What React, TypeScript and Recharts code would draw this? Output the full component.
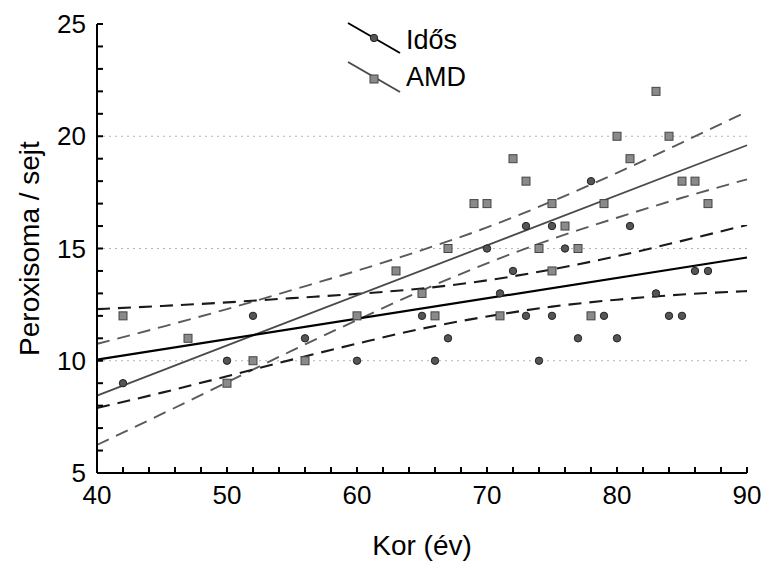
import { ComposedChart, XAxis, YAxis, Scatter, Line, ReferenceLine } from "recharts";

// Idős (elderly) group
const idosAge = [42, 50, 52, 56, 60, 65, 66, 67, 70, 71, 72, 73, 73, 74, 75, 75, 76, 77, 78, 79, 80, 81, 83, 84, 85, 86, 87];
const idosValue = [9, 10, 12, 11, 10, 12, 10, 11, 15, 13, 14, 16, 12, 10, 16, 12, 15, 11, 18, 12, 11, 16, 13, 12, 12, 14, 14];

// AMD group
const amdAge = [42, 47, 50, 52, 56, 60, 63, 65, 66, 67, 69, 70, 71, 72, 73, 74, 75, 75, 76, 77, 78, 79, 80, 81, 83, 84, 85, 86, 87];
const amdValue = [12, 11, 9, 10, 10, 12, 14, 13, 12, 15, 17, 17, 12, 19, 18, 15, 17, 14, 16, 15, 12, 17, 20, 19, 22, 20, 18, 18, 17];

// regression lines (read at the ends of the x range)
const fitAge = [40, 90];
const idosFit = [10.05, 14.6];
const amdFit = [8.45, 19.6];

// 95% confidence bands
const bandAge = [40, 45, 50, 55, 60, 65, 70, 75, 80, 85, 90];
const idosUpper = [12.3, 12.44, 12.6, 12.79, 12.98, 13.22, 13.58, 14.07, 14.66, 15.34, 16.05];
const idosLower = [7.9, 8.58, 9.31, 10.05, 10.76, 11.43, 11.97, 12.41, 12.72, 12.95, 13.1];
const amdUpper = [10.75, 11.51, 12.3, 13.15, 14.01, 14.93, 15.94, 17.1, 18.37, 19.72, 21.1];
const amdLower = [6.25, 7.63, 9.04, 10.45, 11.81, 13.13, 14.34, 15.42, 16.37, 17.26, 18.08];

const xTicks = [40, 42, 44, 46, 48, 50, 52, 54, 56, 58, 60, 62, 64, 66, 68, 70, 72, 74, 76, 78, 80, 82, 84, 86, 88, 90];
const yTicks = [5, 6, 7, 8, 9, 10, 11, 12, 13, 14, 15, 16, 17, 18, 19, 20, 21, 22, 23, 24, 25];
const gridValues = [10, 15, 20];

const FONT = '"Liberation Sans", Arial, sans-serif';

const toPoints = (xs: number[], ys: number[]) => xs.map((x, i) => ({ x, y: ys[i] }));

const XTick = (props: any) => {
  const { x, y, payload } = props;
  const major = payload.value % 10 === 0;
  return (
    <g>
      <path d={`M${x},${y}V${y - 6}`} stroke="#000" strokeWidth={2} fill="none" />
      {major && (
        <text x={x} y={y + 31} textAnchor="middle" fontSize={26} fontFamily={FONT} fill="#000">
          {payload.value}
        </text>
      )}
    </g>
  );
};

const YTick = (props: any) => {
  const { x, y, payload } = props;
  const major = payload.value % 5 === 0;
  return (
    <g>
      <path d={`M${x},${y}H${x + 6}`} stroke="#000" strokeWidth={2} fill="none" />
      {major && (
        <text x={x - 11} y={y + 9} textAnchor="end" fontSize={26} fontFamily={FONT} fill="#000">
          {payload.value}
        </text>
      )}
    </g>
  );
};

const CircleMark = ({ cx, cy }: any) => (
  <circle cx={cx} cy={cy} r={3.7} fill="#555" stroke="#222" strokeWidth={1} />
);

const SquareMark = ({ cx, cy }: any) => (
  <rect x={cx - 4} y={cy - 4} width={8} height={8} fill="#8a8a8a" stroke="#444" strokeWidth={1} />
);

const XTitle = ({ viewBox }: any) => (
  <text x={viewBox.x + viewBox.width / 2} y={555} textAnchor="middle" fontSize={28} fontFamily={FONT} fill="#000">
    Kor (év)
  </text>
);

const YTitle = ({ viewBox }: any) => {
  const cy = viewBox.y + viewBox.height / 2;
  return (
    <text
      x={29}
      y={cy}
      transform={`rotate(-90, 29, ${cy})`}
      textAnchor="middle"
      dominantBaseline="central"
      fontSize={28}
      fontFamily={FONT}
      fill="#000"
    >
      Peroxisoma / sejt
    </text>
  );
};

export default function App() {
  return (
    <div style={{ position: "absolute", left: 0, top: 0, width: 761, height: 562, background: "#fff" }}>
      <ComposedChart width={761} height={562} margin={{ top: 24, right: 14, bottom: 0, left: 0 }}>
        {gridValues.map((v) => (
          <ReferenceLine key={v} y={v} stroke="#b5b5b5" strokeDasharray="2 4" />
        ))}
        <Line data={toPoints(bandAge, amdUpper)} dataKey="y" type="monotone" stroke="#5a5a5a" strokeWidth={1.9} strokeDasharray="13 8" dot={false} isAnimationActive={false} />
        <Line data={toPoints(bandAge, amdLower)} dataKey="y" type="monotone" stroke="#5a5a5a" strokeWidth={1.9} strokeDasharray="13 8" dot={false} isAnimationActive={false} />
        <Line data={toPoints(bandAge, idosUpper)} dataKey="y" type="monotone" stroke="#1a1a1a" strokeWidth={2.1} strokeDasharray="13 8" dot={false} isAnimationActive={false} />
        <Line data={toPoints(bandAge, idosLower)} dataKey="y" type="monotone" stroke="#1a1a1a" strokeWidth={2.1} strokeDasharray="13 8" dot={false} isAnimationActive={false} />
        <Line data={toPoints(fitAge, amdFit)} dataKey="y" type="linear" stroke="#4a4a4a" strokeWidth={1.8} dot={false} isAnimationActive={false} />
        <Line data={toPoints(fitAge, idosFit)} dataKey="y" type="linear" stroke="#000" strokeWidth={2.2} dot={false} isAnimationActive={false} />
        <Scatter data={toPoints(amdAge, amdValue)} dataKey="y" shape={SquareMark} isAnimationActive={false} />
        <Scatter data={toPoints(idosAge, idosValue)} dataKey="y" shape={CircleMark} isAnimationActive={false} />
        <XAxis
          dataKey="x"
          type="number"
          domain={[40, 90]}
          ticks={xTicks}
          interval={0}
          height={89}
          tickSize={0}
          tickMargin={0}
          tick={XTick}
          axisLine={{ stroke: "#000", strokeWidth: 2 }}
          label={{ content: XTitle }}
        />
        <YAxis
          dataKey="y"
          type="number"
          domain={[5, 25]}
          ticks={yTicks}
          interval={0}
          width={97}
          tickSize={0}
          tickMargin={0}
          tick={YTick}
          axisLine={{ stroke: "#000", strokeWidth: 2 }}
          label={{ content: YTitle }}
        />
      </ComposedChart>
      <svg width={761} height={110} style={{ position: "absolute", left: 0, top: 0, pointerEvents: "none" }}>
        <line x1={348} y1={23} x2={400} y2={53} stroke="#000" strokeWidth={2} />
        <circle cx={374} cy={38} r={3.7} fill="#555" stroke="#222" />
        <text x={406} y={49} fontSize={27} fontFamily={FONT} fill="#000">Idős</text>
        <line x1={348} y1={62} x2={400} y2={92} stroke="#4a4a4a" strokeWidth={2} />
        <rect x={370} y={75} width={8} height={8} fill="#8a8a8a" stroke="#444" />
        <text x={406} y={86} fontSize={27} fontFamily={FONT} fill="#000">AMD</text>
      </svg>
    </div>
  );
}
